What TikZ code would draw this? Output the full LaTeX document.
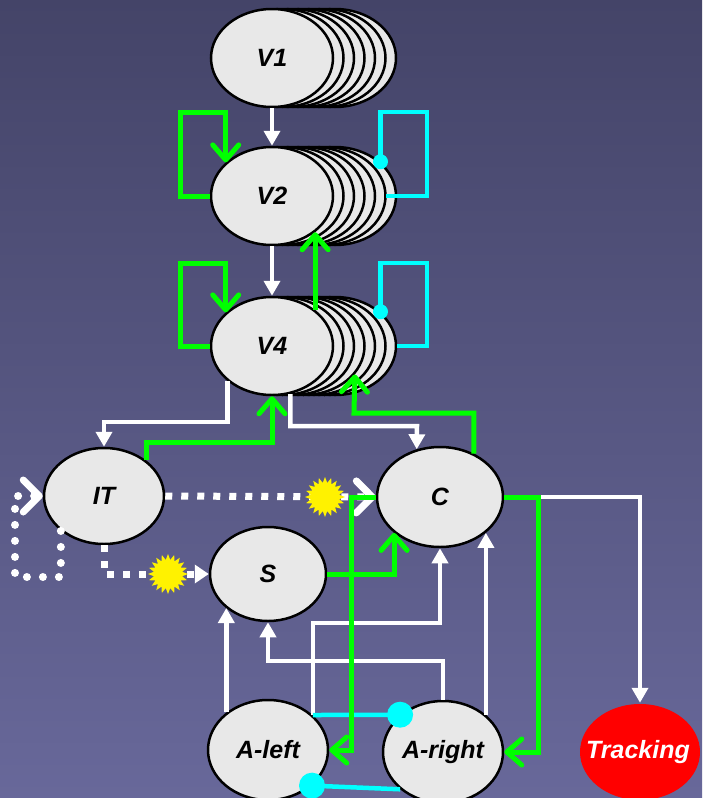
\documentclass[tikz,border=0pt]{standalone}
\usepackage{fontspec}
\setmainfont{Liberation Sans}
\usetikzlibrary{arrows.meta,shapes.geometric}
\definecolor{bgtop}{RGB}{68,68,104}
\definecolor{bgbot}{RGB}{104,104,154}
\definecolor{ellfill}{RGB}{232,232,232}
\definecolor{lgreen}{RGB}{0,255,0}
\definecolor{lcyan}{RGB}{0,255,255}
\begin{document}
\begin{tikzpicture}[x=1pt,y=-1pt,
  ell/.style={ellipse, draw=black, line width=2.5pt, fill=ellfill, inner sep=0pt,
    minimum width=122pt, minimum height=98pt},
  lbl/.style={font=\fontsize{25}{28}\selectfont\bfseries\itshape, inner sep=0pt},
  wline/.style={draw=white, line width=4.5pt, -{Triangle[length=15pt,width=16pt]}},
  gline/.style={draw=lgreen, line width=5pt, -{Straight Barb[length=15pt,width=26pt,round]}},
  cline/.style={draw=lcyan, line width=4.5pt},
  sqdots/.style={draw=white, line width=7pt, dash pattern=on 7pt off 9pt},
  rddots/.style={draw=white, line width=8pt, line cap=round, dash pattern=on 0pt off 16pt},
  wbarb/.style={-{Straight Barb[length=16pt,width=32pt,line width=7pt,round]}},
  burst/.style={star, star points=20, star point ratio=1.4, minimum size=40pt, fill=yellow, inner sep=0pt},
]
\shade[top color=bgtop, bottom color=bgbot] (0,0) rectangle (702,798);
\useasboundingbox (0,0) rectangle (702,798);

% stacks
\foreach \k in {6,5,...,1} {
  \node[ell] (V1s\k) at ({272+10.5*\k},58) {};
}
\node[ell] (V1) at (272,58) {};
\foreach \k in {6,5,...,1} {
  \node[ell] (V2s\k) at ({272+10.5*\k},196) {};
}
\node[ell] (V2) at (272,196) {};
\foreach \k in {6,5,...,1} {
  \node[ell] (V4s\k) at ({272+10.5*\k},346) {};
}
\node[ell] (V4) at (272,346) {};

\node[ell, minimum width=120pt, minimum height=96pt] (IT) at (104,496) {};
\node[ell, minimum width=116pt, minimum height=94pt] (S) at (268,574) {};
\node[ell, minimum width=126pt, minimum height=100pt] (C) at (440,497) {};
\node[ell, minimum width=120pt, minimum height=100pt] (Aleft) at (268,750) {};
\node[ell, minimum width=120pt, minimum height=102pt] (Aright) at (443,752) {};
\node[ell, minimum width=120pt, minimum height=96pt, fill=red, draw=none] (Track) at (640,752) {};

\node[lbl] (tV1) at (V1) {V1};
\node[lbl] (tV2) at (V2) {V2};
\node[lbl] (tV4) at (V4) {V4};
\node[lbl] (tIT) at (IT) {IT};
\node[lbl] (tS) at (S) {S};
\node[lbl] (tC) at (C) {C};
\node[lbl] (tAl) at (Aleft) {A-left};
\node[lbl] (tAr) at (Aright) {A-right};
\node[lbl, text=white] (tTr) at ([xshift=-2pt]Track.center) {Tracking};

% white connectors
\draw[wline] (V1.south) -- (V2.north);
\draw[wline] (V2.south) -- (V4.north);
\draw[wline] (V4.-142) |- (104,422) -- (IT.north);
\draw[wline] (V4.-69) |- (417,426) -- (C.116);
\draw[wline] (C.east) -| (Track.north);
\draw[wline] (Aleft.138) -- (Aleft.138 |- S.-141);
\draw[wline] (Aright.north) |- (268,661) -- (S.south);
\draw[wline] (Aleft.38) |- (440,623) -- (C.south);
\draw[wline] (Aright.41) -- (Aright.41 |- C.-38);

% cyan connectors
\draw[cline] ([xshift=-11pt]V2s6.east) -| (427,112) -| (V2s6.37);
\fill[lcyan] (V2s6.37) circle (7.5pt);
\draw[cline] (V4s6.east) -| (427,263) -| (V4s6.37);
\fill[lcyan] (V4s6.37) circle (7.5pt);
\draw[cline] (Aleft.38) -- (Aright.139);
\fill[lcyan] (Aright.139) circle (13pt);
\draw[cline] (Aright.-139) -- (Aleft.-39);
\fill[lcyan] (Aleft.-39) circle (13pt);

% dotted connectors
\draw[sqdots, wbarb] (IT.east) -- (C.west);
\draw[sqdots, -{Triangle[length=14pt,width=18pt]}] (IT.south) |- (S.west);
\draw[rddots, wbarb] (IT.-141) |- (15,577) |- (IT.west);
\node[burst] (b1) at (325,497) {};
\node[burst] (b2) at (168,574) {};

% green connectors
\draw[gline] (V2.west) -| (180,112) -| (V2.144);
\draw[gline] (V4.west) -| (180,263) -| (V4.144);
\draw[gline] (V4.40) -- (V2.-40);
\draw[gline] (IT.40) |- (272,442) -- (V4.south);
\draw[gline] (C.52) |- (354,413) -- (V4s3.-29);
\draw[gline] (S.east) -| (C.-142);
\draw[gline] (C.west) -- ++(-24,0) |- (Aleft.east);
\draw[gline] (C.east) -- ++(34,0) |- (Aright.east);
\end{tikzpicture}
\end{document}
